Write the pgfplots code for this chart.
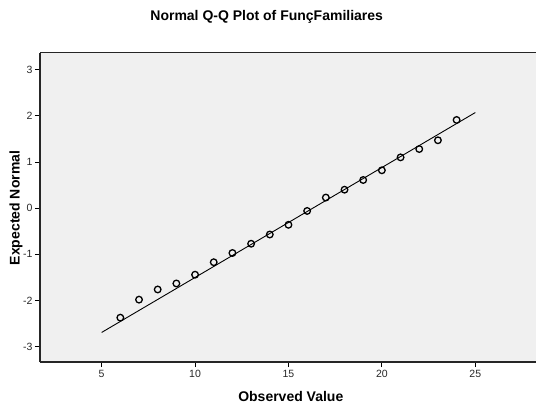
\documentclass[border=0pt]{standalone}
\usepackage{pgfplots}
\pgfplotsset{compat=1.18}
\usepackage{fontspec}
\setmainfont{Liberation Sans}
\definecolor{bggray}{HTML}{F0F0F0}
\begin{document}
\begin{tikzpicture}
\useasboundingbox (0,0) rectangle (536pt,408pt);
\begin{axis}[
  at={(40pt,46pt)}, anchor=south west,
  scale only axis, width=496pt, height=309.5pt,
  xmin=1.7, xmax=28.25, ymin=-3.33, ymax=3.37,
  xtick={5,10,15,20,25}, ytick={-3,-2,-1,0,1,2,3},
  axis x line*=bottom, axis y line*=left,
  axis line style={-, line width=1.2pt, black!85},
  tick align=outside, major tick length=5pt,
  tick style={line width=0.8pt, black},
  axis background/.style={fill=bggray},
  ticklabel style={font=\fontsize{10.5}{12}\selectfont, text=black!85},
  yticklabel style={xshift=1pt},
  /pgf/number format/assume math mode=true,
  clip=false,
]
\draw[line width=1.2pt, black!85] (rel axis cs:0,1) -- (rel axis cs:1,1);
\addplot[black, line width=0.9pt] coordinates {(5,-2.69) (25,2.07)};
\addplot[only marks, mark=o, mark size=3.3pt, mark options={line width=1.3pt, black}] coordinates {
(6,-2.37) (7,-1.98) (8,-1.76) (9,-1.63) (10,-1.44) (11,-1.17) (12,-0.97)
(13,-0.77) (14,-0.57) (15,-0.36) (16,-0.06) (17,0.23) (18,0.40) (19,0.61)
(20,0.82) (21,1.10) (22,1.28) (23,1.47) (24,1.91)};
\end{axis}
\node[font=\bfseries\fontsize{14}{16}\selectfont] at (266.7pt,391pt) {Normal Q-Q Plot of FunçFamiliares};
\node[font=\bfseries\fontsize{14}{16}\selectfont] at (290.8pt,12pt) {Observed Value};
\node[font=\bfseries\fontsize{14}{16}\selectfont, rotate=90] at (16pt,200pt) {Expected Normal};
\end{tikzpicture}
\end{document}
